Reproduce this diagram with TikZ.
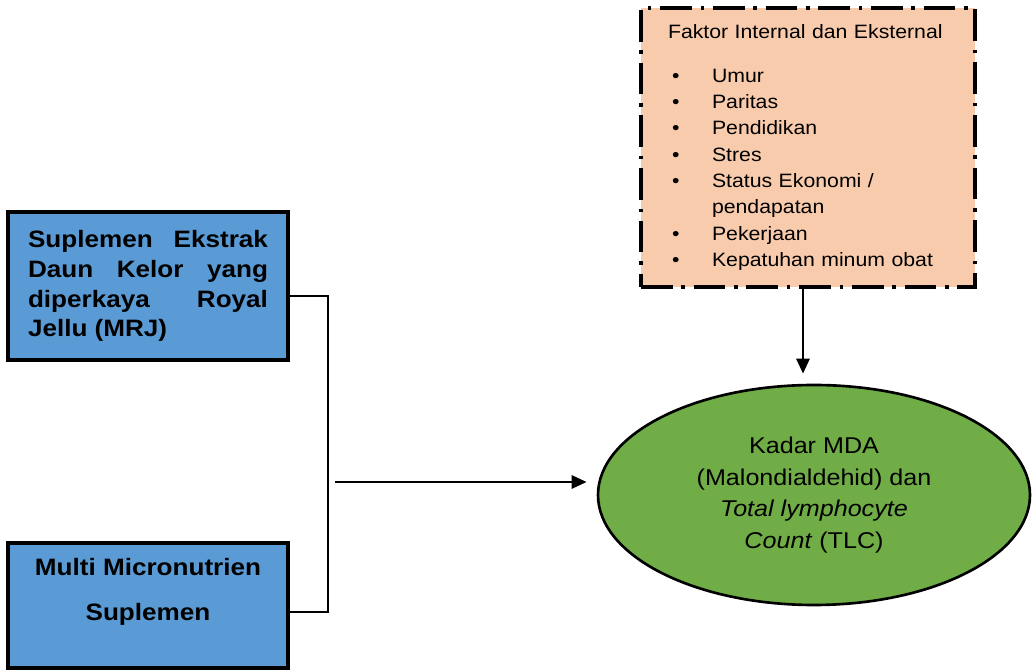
\documentclass[tikz,border=0pt]{standalone}
\usepackage{fontspec}
\setmainfont{Liberation Sans}[FakeStretch=1.1]
\usepackage{tikz}
\usetikzlibrary{arrows.meta,shapes.geometric}
\definecolor{kelorblue}{HTML}{5B9BD5}
\definecolor{faktorpeach}{HTML}{F8CBAD}
\definecolor{tlcgreen}{HTML}{70AD47}
\newcommand{\itm}{\hspace*{0.08cm}\makebox[0.8cm][l]{\textbullet}}

\begin{document}
\begin{tikzpicture}[scale=1,
    suppbox/.style={draw, line width=1.9pt, fill=kelorblue, minimum width=5.6cm, inner sep=0pt, font=\bfseries},
    link/.style={line width=1.6pt},
    tip/.style={-{Triangle[length=0.3cm,width=0.26cm]}, shorten >=0.2cm}]
      \useasboundingbox (0,0) rectangle (20.64,13.4);
      \node (mrj) at (2.96,7.68) [suppbox, minimum height=2.96cm] {\parbox{4.8cm}{\fontsize{13.5}{17}\selectfont\hyphenpenalty=10000 Suplemen Ekstrak Daun Kelor yang diperkaya Royal Jellu (MRJ)}};
      \node (mmn) at (2.96,1.29) [suppbox, minimum height=2.5cm] {\parbox[c][2.3cm][t]{5.4cm}{\centering\fontsize{13.5}{17}\selectfont\vspace*{0.2cm}Multi Micronutrien\\[9pt]Suplemen}};
      \node (faktor) at (16.16,10.45) [draw, line width=1.8pt, dash pattern=on 18pt off 5pt on 2pt off 5pt, fill=faktorpeach, minimum width=6.68cm, minimum height=5.58cm, text width=5.6cm, inner xsep=0.54cm, inner ysep=0pt, align=left, font=\fontsize{11}{15}\selectfont]
        {Faktor Internal dan Eksternal\\[10pt]
         \itm Umur\\
         \itm Paritas\\
         \itm Pendidikan\\
         \itm Stres\\
         \itm Status Ekonomi /\\
         \hspace*{0.88cm}pendapatan\\
         \itm Pekerjaan\\
         \itm Kepatuhan minum obat};
      \node (tlc) at (16.28,3.5) [draw, ellipse, line width=1.5pt, fill=tlcgreen, minimum width=8.64cm, minimum height=4.4cm, inner sep=0pt, align=center, font=\fontsize{13}{18}\selectfont]
        {Kadar MDA\\(Malondialdehid) dan\\\textit{Total lymphocyte}\\\textit{Count} (TLC)};
      \coordinate (j1) at (6.56,7.48);
      \coordinate (j2) at (6.56,1.16);
      \coordinate (a0) at (6.70,3.76);

      \draw[link] (mrj.east |- j1) -- (j1) -- (j2) -- (mmn.east |- j2);
      \draw[link, tip] (a0) -- (tlc.west |- a0);
      \draw[link, tip] ([xshift=-0.1cm]faktor.south) -- ([xshift=-0.1cm]faktor.south |- tlc.north);
    \end{tikzpicture}
\end{document}
